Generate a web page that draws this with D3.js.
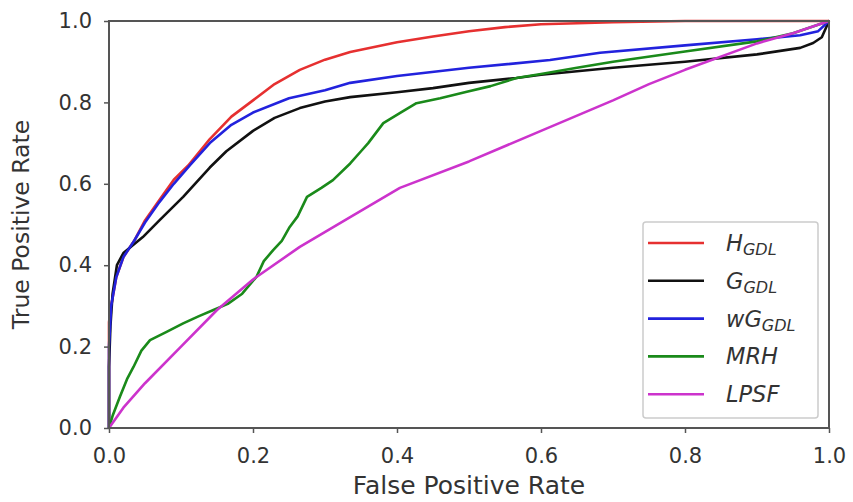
<!DOCTYPE html>
<html lang="en">
<head>
<meta charset="UTF-8"/>
<title>ROC curves</title>
<script src="https://cdn.jsdelivr.net/npm/d3@7"></script>
<style>
  body { margin: 0; background: #fff; }
  text { font-family: "DejaVu Sans", sans-serif; fill: #333; }
</style>
</head>
<body>
<script>
// ticks
var tickVals = [0, 0.2, 0.4, 0.6, 0.8, 1.0];

// H_GDL (red)
var hFpr = [0, 0, 0.003, 0.01, 0.02, 0.035, 0.05, 0.07, 0.09, 0.11, 0.14, 0.17, 0.2, 0.23, 0.265, 0.3, 0.335, 0.4, 0.45, 0.5, 0.55, 0.6, 0.7, 0.8, 1.0];
var hTpr = [0, 0.26, 0.3, 0.37, 0.42, 0.46, 0.51, 0.56, 0.61, 0.645, 0.71, 0.765, 0.805, 0.845, 0.88, 0.905, 0.924, 0.948, 0.962, 0.975, 0.985, 0.992, 0.997, 1.0, 1.0];

// G_GDL (black)
var gFpr = [0, 0, 0.002, 0.005, 0.011, 0.02, 0.047, 0.07, 0.103, 0.14, 0.163, 0.2, 0.23, 0.265, 0.3, 0.335, 0.4, 0.45, 0.5, 0.566, 0.6, 0.7, 0.8, 0.9, 0.96, 0.978, 0.99, 1.0];
var gTpr = [0, 0.15, 0.25, 0.33, 0.40, 0.43, 0.469, 0.51, 0.568, 0.64, 0.68, 0.73, 0.762, 0.786, 0.802, 0.813, 0.825, 0.835, 0.848, 0.86, 0.868, 0.885, 0.9, 0.918, 0.934, 0.946, 0.96, 1.0];

// wG_GDL (blue)
var wFpr = [0, 0, 0.003, 0.01, 0.02, 0.035, 0.05, 0.07, 0.09, 0.1125, 0.14, 0.17, 0.2, 0.25, 0.3, 0.335, 0.4, 0.5, 0.6125, 0.682, 0.8, 0.9, 0.96, 0.985, 1.0];
var wTpr = [0, 0.2, 0.3, 0.37, 0.42, 0.46, 0.505, 0.555, 0.6, 0.646, 0.7, 0.745, 0.775, 0.81, 0.83, 0.848, 0.865, 0.885, 0.904, 0.922, 0.94, 0.955, 0.965, 0.975, 1.0];

// MRH (green)
var mFpr = [0, 0.005, 0.015, 0.025, 0.034, 0.045, 0.057, 0.08, 0.103, 0.125, 0.145, 0.165, 0.185, 0.205, 0.215, 0.228, 0.24, 0.251, 0.262, 0.275, 0.295, 0.311, 0.335, 0.35, 0.36, 0.381, 0.405, 0.427, 0.46, 0.497, 0.53, 0.566, 0.6, 0.65, 0.7, 0.8, 0.9, 0.95, 1.0];
var mTpr = [0, 0.03, 0.076, 0.12, 0.15, 0.19, 0.216, 0.236, 0.257, 0.275, 0.29, 0.305, 0.33, 0.372, 0.41, 0.437, 0.46, 0.494, 0.52, 0.568, 0.59, 0.609, 0.65, 0.68, 0.70, 0.749, 0.775, 0.798, 0.81, 0.826, 0.84, 0.86, 0.87, 0.885, 0.9, 0.925, 0.95, 0.97, 1.0];

// LPSF (magenta)
var lFpr = [0, 0.02, 0.05, 0.1, 0.15, 0.2, 0.265, 0.335, 0.404, 0.5, 0.6, 0.7, 0.75, 0.8, 0.9, 0.95, 1.0];
var lTpr = [0, 0.05, 0.11, 0.2, 0.29, 0.365, 0.445, 0.518, 0.59, 0.655, 0.73, 0.805, 0.845, 0.88, 0.945, 0.97, 1.0];

var names = ["H", "G", "wG", "MRH", "LPSF"];
var subs = ["GDL", "GDL", "GDL", "", ""];
var colors = ["#e63030", "#111111", "#2222dd", "#1a8a1a", "#cc33cc"];
var fprs = [hFpr, gFpr, wFpr, mFpr, lFpr];
var tprs = [hTpr, gTpr, wTpr, mTpr, lTpr];

var W = 853, H = 502;
var pL = 109, pR = 829, pT = 21, pB = 428;

var svg = d3.select("body").append("svg")
    .attr("width", W)
    .attr("height", H);

var x = d3.scaleLinear().domain([0, 1]).range([pL, pR]);
var y = d3.scaleLinear().domain([0, 1]).range([pB, pT]);

var line = d3.line()
    .x(function(d) { return x(d[0]); })
    .y(function(d) { return y(d[1]); });

// curves
for (var i = 0; i < names.length; i++) {
  var pts = fprs[i].map(function(v, j) { return [v, tprs[i][j]]; });
  svg.append("path")
    .datum(pts)
    .attr("d", line)
    .attr("fill", "none")
    .attr("stroke", colors[i])
    .attr("stroke-width", 2.6)
    .attr("stroke-linejoin", "round");
}

// axes
var xAxis = svg.append("g")
    .attr("transform", "translate(0," + pB + ")")
    .call(d3.axisBottom(x).tickValues(tickVals).tickFormat(d3.format(".1f")).tickSize(5).tickPadding(15));
var yAxis = svg.append("g")
    .attr("transform", "translate(" + pL + ",0)")
    .call(d3.axisLeft(y).tickValues(tickVals).tickFormat(d3.format(".1f")).tickSize(5).tickPadding(12));

[xAxis, yAxis].forEach(function(a) {
  a.select(".domain").remove();
  a.selectAll(".tick line").attr("stroke", "#555").attr("stroke-width", 1.5);
  a.selectAll(".tick text").attr("font-size", 21).attr("fill", "#333")
    .attr("font-family", "DejaVu Sans");
});

// spines
svg.append("rect")
    .attr("x", pL).attr("y", pT)
    .attr("width", pR - pL).attr("height", pB - pT)
    .attr("fill", "none")
    .attr("stroke", "#555")
    .attr("stroke-width", 2);

// axis labels
svg.append("text")
    .attr("x", (pL + pR) / 2).attr("y", 494)
    .attr("text-anchor", "middle")
    .attr("font-size", 25)
    .text("False Positive Rate");
svg.append("text")
    .attr("transform", "translate(29," + (pT + pB) / 2 + ") rotate(-90)")
    .attr("text-anchor", "middle")
    .attr("font-size", 23.5)
    .text("True Positive Rate");

// legend
var lg = svg.append("g");
lg.append("rect")
    .attr("x", 643).attr("y", 222)
    .attr("width", 175).attr("height", 196)
    .attr("rx", 3)
    .attr("fill", "#fff")
    .attr("stroke", "#ccc")
    .attr("stroke-width", 1.5);

for (var k = 0; k < names.length; k++) {
  var ly = 243 + k * 37.8;
  lg.append("line")
    .attr("x1", 648).attr("x2", 704)
    .attr("y1", ly).attr("y2", ly)
    .attr("stroke", colors[k])
    .attr("stroke-width", 2.6);
  var t = lg.append("text")
    .attr("x", 726).attr("y", ly + 8)
    .attr("font-size", 22.5)
    .attr("font-style", "italic");
  t.append("tspan").text(names[k]);
  if (subs[k]) {
    t.append("tspan")
      .attr("font-size", 16)
      .attr("dy", 4)
      .text(subs[k]);
  }
}
</script>
</body>
</html>
